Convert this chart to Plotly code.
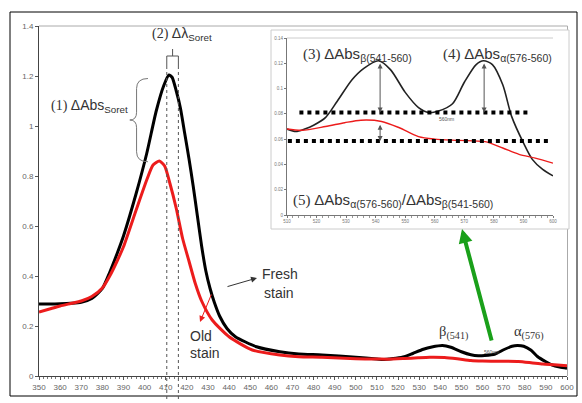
import plotly.graph_objects as go

# ---------------- data ----------------
wl_fresh = [350, 355, 360, 365, 370, 375, 380, 383.5, 387, 390, 396, 401, 405.5, 409, 411.5, 413, 415,
            417, 419, 421, 423, 425, 427, 429, 431, 433, 435.5, 439, 443, 453, 464, 473, 484, 500,
            510, 513, 516, 519, 523, 527, 532, 536, 541, 545, 550, 554.5, 558, 561, 566, 570,
            574, 576.5, 579.5, 583, 586, 590, 593, 596.5, 600]
abs_fresh = [0.288, 0.288, 0.289, 0.291, 0.295, 0.310, 0.350, 0.415, 0.490, 0.560, 0.730, 0.890, 1.060, 1.160, 1.204, 1.195, 1.140,
             1.070, 0.970, 0.870, 0.760, 0.640, 0.520, 0.420, 0.350, 0.295, 0.240, 0.190, 0.157, 0.117, 0.097, 0.088, 0.084, 0.075,
             0.068, 0.066, 0.068, 0.071, 0.077, 0.090, 0.107, 0.116, 0.122, 0.115, 0.097, 0.085, 0.081, 0.082, 0.088, 0.105,
             0.119, 0.122, 0.119, 0.103, 0.078, 0.057, 0.044, 0.036, 0.031]

wl_old = [350, 355, 360, 365, 370, 375, 380, 383.5, 387, 390, 396, 401, 404, 407, 409.5, 412, 415, 418, 421, 424, 427,
          432, 440, 451, 464, 473, 484, 500, 510, 515, 523, 529.5, 535, 542, 548, 554.5, 560, 568, 577, 583,
          588.5, 594, 600]
abs_old = [0.256, 0.268, 0.280, 0.290, 0.300, 0.318, 0.352, 0.400, 0.460, 0.517, 0.664, 0.784, 0.844, 0.860, 0.840, 0.770, 0.670, 0.550, 0.460, 0.370, 0.300,
           0.224, 0.157, 0.104, 0.084, 0.077, 0.075, 0.069, 0.068, 0.067, 0.070, 0.073, 0.075, 0.074, 0.069, 0.062, 0.060, 0.059, 0.058, 0.053,
           0.048, 0.045, 0.041]

x_ticks = list(range(350, 601, 10))
y_ticks = [0, 0.2, 0.4, 0.6, 0.8, 1.0, 1.2, 1.4]
y_tick_text = ["0", "0.2", "0.4", "0.6", "0.8", "1", "1.2", "1.4"]
inset_x_ticks = list(range(510, 601, 10))
inset_y_ticks = [0, 0.02, 0.04, 0.06, 0.08, 0.10, 0.12, 0.14]
inset_y_text = ["0", "0.02", "0.04", "0.06", "0.08", "0.1", "0.12", "0.14"]

soret_lines = [410.5, 416.0]          # peak positions marked by dotted lines
inset_upper_level = 0.081             # 560 nm baseline (fresh)
inset_lower_level = 0.0586            # baseline (old)

W, H = 582, 403
def px(x):
    return x / W
def py(y):
    return (H - y) / H

inset_fresh_x = [w for w in wl_fresh if w >= 510]
inset_fresh_y = [a for w, a in zip(wl_fresh, abs_fresh) if w >= 510]
inset_old_x = [w for w in wl_old if w >= 510]
inset_old_y = [a for w, a in zip(wl_old, abs_old) if w >= 510]

RED = "#ec1c1c"
SERIF = "Liberation Serif"
SANS = "Liberation Sans"

fig = go.Figure()
fig.add_trace(go.Scatter(x=wl_fresh, y=abs_fresh, mode="lines",
                         line=dict(color="black", width=3, shape="spline", smoothing=0.6),
                         xaxis="x", yaxis="y", hoverinfo="skip"))
fig.add_trace(go.Scatter(x=wl_old, y=abs_old, mode="lines",
                         line=dict(color=RED, width=3, shape="spline", smoothing=0.6),
                         xaxis="x", yaxis="y", hoverinfo="skip"))
fig.add_trace(go.Scatter(x=inset_fresh_x, y=inset_fresh_y, mode="lines",
                         line=dict(color="#222", width=1.6, shape="spline", smoothing=0.8),
                         xaxis="x2", yaxis="y2", hoverinfo="skip"))
fig.add_trace(go.Scatter(x=inset_old_x, y=inset_old_y, mode="lines",
                         line=dict(color=RED, width=1.4, shape="spline", smoothing=0.8),
                         xaxis="x2", yaxis="y2", hoverinfo="skip"))

tickfont = dict(family=SANS, size=8, color="#666")
fig.update_layout(
    width=W, height=H,
    margin=dict(l=0, r=0, t=0, b=0),
    paper_bgcolor="white", plot_bgcolor="rgba(0,0,0,0)",
    showlegend=False,
    xaxis=dict(domain=[px(39), px(567)], range=[350, 600], tickvals=x_ticks,
               ticks="outside", ticklen=3, tickcolor="#555", tickfont=tickfont,
               minor=dict(dtick=2, ticks="outside", ticklen=2, tickcolor="#777"),
               showline=True, linecolor="#444", linewidth=1, showgrid=False, zeroline=False,
               automargin=False, anchor="y"),
    yaxis=dict(domain=[py(376), py(26)], range=[0, 1.4], tickvals=y_ticks, ticktext=y_tick_text,
               ticks="outside", ticklen=3, tickcolor="#555", tickfont=tickfont,
               showline=True, linecolor="#444", linewidth=1, showgrid=False, zeroline=False,
               automargin=False, anchor="x"),
    xaxis2=dict(domain=[px(287), px(553)], range=[510, 600], tickvals=inset_x_ticks,
                ticks="outside", ticklen=2, tickcolor="#777",
                tickfont=dict(family=SANS, size=4.5, color="#777"),
                minor=dict(dtick=2, ticks="outside", ticklen=1.5, tickcolor="#999"),
                showline=True, linecolor="#777", linewidth=1, showgrid=False, zeroline=False,
                automargin=False, anchor="y2"),
    yaxis2=dict(domain=[py(215), py(38)], range=[0, 0.14], tickvals=inset_y_ticks, ticktext=inset_y_text,
                ticks="outside", ticklen=2, tickcolor="#777",
                tickfont=dict(family=SANS, size=4.5, color="#777"),
                showline=True, linecolor="#777", linewidth=1, showgrid=False, zeroline=False,
                automargin=False, anchor="x2"),
)

shapes = []
# outer frame
shapes.append(dict(type="rect", xref="paper", yref="paper", x0=px(10), x1=px(577), y0=py(396), y1=py(12),
                   line=dict(color="black", width=1), layer="below"))
# main plot area top/right border
shapes.append(dict(type="path", xref="paper", yref="paper",
                   path=f"M {px(39)},{py(26)} L {px(567.5)},{py(26)} L {px(567.5)},{py(376)}",
                   line=dict(color="#aaa", width=1), layer="below"))
# inset box
shapes.append(dict(type="rect", xref="paper", yref="paper", x0=px(271), x1=px(569), y0=py(229), y1=py(30),
                   fillcolor="white", line=dict(color="#ccc", width=1), layer="below"))
shapes.append(dict(type="line", xref="paper", yref="paper", x0=px(287), x1=px(553), y0=py(38), y1=py(38),
                   line=dict(color="#ccc", width=1), layer="below"))
# dotted Soret lines
for xl in soret_lines:
    shapes.append(dict(type="line", xref="x", yref="paper", x0=xl, x1=xl, y0=py(399), y1=py(68),
                       line=dict(color="#555", width=1, dash="dot")))
# bracket for (2)
xm = (soret_lines[0] + soret_lines[1]) / 2
shapes.append(dict(type="path", xref="x", yref="paper",
                   path=(f"M {soret_lines[0]},{py(68)} L {soret_lines[0]},{py(56)} L {soret_lines[1]},{py(56)} "
                         f"L {soret_lines[1]},{py(68)} M {xm},{py(56)} L {xm},{py(49)}"),
                   line=dict(color="#555", width=1)))
# curly brace for (1)
brace = ("M 401.6,1.19 Q 396.2,1.19 396.2,1.15 L 396.2,1.055 Q 396.2,1.024 393.0,1.024 "
         "Q 396.2,1.024 396.2,0.993 L 396.2,0.897 Q 396.2,0.857 401.6,0.857")
shapes.append(dict(type="path", xref="x", yref="y", path=brace, line=dict(color="#777", width=1)))
# inset dotted baselines
shapes.append(dict(type="line", xref="x2", yref="y2", x0=514.2, x1=592.6, y0=inset_upper_level, y1=inset_upper_level,
                   line=dict(color="black", width=4, dash="dot")))
shapes.append(dict(type="line", xref="x2", yref="y2", x0=510.3, x1=599.4, y0=inset_lower_level, y1=inset_lower_level,
                   line=dict(color="black", width=4, dash="dot")))
fig.update_layout(shapes=shapes)

ann = []
def text(x, y, t, size=14, color="#333", family=SANS, xanchor="left"):
    ann.append(dict(x=px(x), y=py(y), xref="paper", yref="paper", text=t, showarrow=False,
                    xanchor=xanchor, yanchor="middle", font=dict(family=family, size=size, color=color)))

def ser(s):
    return f"<span style='font-family:{SERIF}'>{s}</span>"

text(49, 106, ser("(1) ") + "ΔAbs<sub>Soret</sub>")
text(182, 34, ser("(2) ") + "Δλ<sub>Soret</sub>", xanchor="center")
text(301, 54, ser("(3) ") + "ΔAbs<sub>β(541-560)</sub>", size=15)
text(441, 54, ser("(4) ") + "ΔAbs<sub>α(576-560)</sub>", size=15)
text(291, 200, ser("(5) ") + "ΔAbs<sub>α(576-560)</sub>/ΔAbs<sub>β(541-560)</sub>", size=15)
text(437, 332, "β<sub>(541)</sub>", size=14.5, family=SERIF)
text(512, 332, "α<sub>(576)</sub>", size=14.5, family=SERIF)
text(260, 274, "Fresh", size=14)
text(262, 293, "stain", size=14)
text(188, 336, "Old", size=14)
text(188, 353, "stain", size=14)
text(437, 119, "560nm", size=5, color="#555")
text(482, 352, "560nm", size=5, color="#555")

# arrows
def arrow(hx, hy, tx, ty, color, width, head=2, size=1.0):
    ann.append(dict(x=px(hx), y=py(hy), xref="paper", yref="paper", ax=tx - hx, ay=ty - hy,
                    axref="pixel", ayref="pixel", text="", showarrow=True, arrowhead=head,
                    arrowsize=size, arrowwidth=width, arrowcolor=color))

arrow(257, 278, 226, 287, "#333", 1, size=1.2)
arrow(200, 322, 212, 293, RED, 1, size=1.2)
arrow(462, 229, 492, 342, "#1aa01a", 4, size=0.7)

# inset double arrows
for xa, y_top, y_bot in [(541.5, 0.121, inset_upper_level), (576.7, 0.121, inset_upper_level),
                         (541.5, 0.0725, inset_lower_level)]:
    ann.append(dict(x=xa, y=y_bot, xref="x2", yref="y2", ax=xa, ay=y_top, axref="x2", ayref="y2",
                    text="", showarrow=True, arrowhead=2, arrowside="end+start", arrowsize=1,
                    arrowwidth=1, arrowcolor="#555"))

fig.update_layout(annotations=ann)
fig.write_html("out.html", config={"displayModeBar": False},
               post_script="document.body.style.margin='0';document.body.style.padding='0';")
